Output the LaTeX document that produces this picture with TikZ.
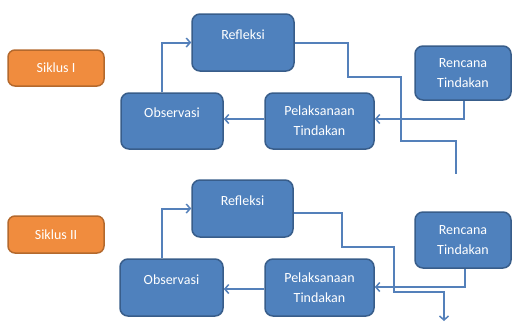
\documentclass[tikz,border=0pt]{standalone}
\usepackage{fontspec}
\setmainfont{Carlito}
\usetikzlibrary{arrows.meta}
\definecolor{boxfill}{RGB}{79,129,189}
\definecolor{boxline}{RGB}{56,93,138}
\definecolor{linkcol}{RGB}{84,128,186}
\definecolor{orfill}{RGB}{240,140,62}
\definecolor{orline}{RGB}{180,105,45}
\tikzset{
  bluebox/.style={draw=boxline, line width=1.5pt, fill=boxfill, rounded corners=8pt,
    text=white, align=center, font=\fontsize{14}{20}\selectfont, inner sep=0pt},
  orbox/.style={draw=orline, line width=1.5pt, fill=orfill, rounded corners=7pt,
    text=white, align=center, font=\fontsize{14}{16}\selectfont, inner sep=0pt,
    minimum width=96pt, minimum height=36pt},
  link/.style={draw=linkcol, line width=2pt},
  arr/.style={link, -{Straight Barb[length=4pt,width=9pt,line width=1.5pt]}}
}
\begin{document}
\begin{tikzpicture}[x=1pt,y=-1pt]
\useasboundingbox (0,0) rectangle (512,322);
% top cycle
\node[orbox] (S1) at (56,68) {Siklus I};
\node[bluebox, minimum width=102pt, minimum height=57pt] (R1) at (243,42.5) {Refleksi\\[-4pt]\mbox{}};
\node[bluebox, minimum width=102pt, minimum height=56pt] (O1) at (172,121) {Observasi\\[-4pt]\mbox{}};
\node[bluebox, minimum width=109pt, minimum height=56pt] (P1) at (319.5,121) {Pelaksanaan\\Tindakan};
\node[bluebox, minimum width=96pt, minimum height=54pt] (N1) at (463,73) {Rencana\\Tindakan};
\coordinate (E1) at (456,174);
\draw[arr] ([xshift=-10pt]O1.north) |- (R1.west);
\draw[arr] ([yshift=2pt]P1.west) -- ([yshift=2pt]O1.east);
\draw[arr] ([xshift=1pt]N1.south) |- ([yshift=2pt]P1.east);
\draw[link] (R1.east) -- ++(53,0) -- ++(0,34) -- ++(53,0) -- ++(0,64) -| (E1);
% bottom cycle
\node[orbox, minimum height=37pt] (S2) at (56,234.5) {Siklus II};
\node[bluebox, minimum width=101pt, minimum height=57pt] (R2) at (242.5,208.5) {Refleksi\\[-4pt]\mbox{}};
\node[bluebox, minimum width=103pt, minimum height=57pt] (O2) at (171.5,287.5) {Observasi\\[-4pt]\mbox{}};
\node[bluebox, minimum width=109pt, minimum height=57pt] (P2) at (319.5,287.5) {Pelaksanaan\\Tindakan};
\node[bluebox, minimum width=96pt, minimum height=56pt] (N2) at (463,240) {Rencana\\Tindakan};
\coordinate (E2) at (444,321);
\draw[arr] ([xshift=-9.5pt]O2.north) |- (R2.west);
\draw[arr] ([yshift=-1.5pt]P2.west) -- ([yshift=-1.5pt]O2.east);
\draw[arr] ([xshift=2pt]N2.south) |- ([yshift=0.5pt]P2.east);
\draw[arr] ([yshift=-4.5pt]R2.east) -- ++(48,0) -- ++(0,34) -- ++(52,0) -- ++(0,45) -| (E2);
\end{tikzpicture}
\end{document}
